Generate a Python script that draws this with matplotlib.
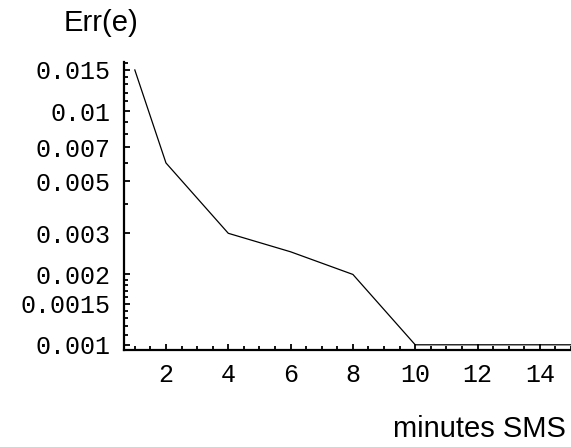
import numpy as np
import matplotlib
matplotlib.use("Agg")
import matplotlib.pyplot as plt
from matplotlib.ticker import FixedLocator, FixedFormatter, MultipleLocator

# data
minutes = [1, 2, 4, 6, 8, 10, 12, 14, 15]
err = [0.015, 0.006, 0.003, 0.0025, 0.002, 0.001, 0.001, 0.001, 0.001]

ytick_vals = [0.001, 0.0015, 0.002, 0.003, 0.005, 0.007, 0.01, 0.015]
ytick_labels = ["0.001", "0.0015", "0.002", "0.003", "0.005", "0.007", "0.01", "0.015"]
xtick_vals = [2, 4, 6, 8, 10, 12, 14]

fig = plt.figure(figsize=(5.71, 4.47), dpi=100)
ax = fig.add_axes([0.217, 0.217, 0.783, 0.644])

ax.plot(minutes, err, color="black", lw=0.9, clip_on=False)
ax.set_yscale("log")
ax.set_xlim(0.65, 15.0)
ax.set_ylim(0.00095, 0.0162)

ax.spines["top"].set_visible(False)
ax.spines["right"].set_visible(False)
ax.spines["left"].set_linewidth(1.6)
ax.spines["bottom"].set_linewidth(1.6)

ax.yaxis.set_major_locator(FixedLocator(ytick_vals))
ax.yaxis.set_major_formatter(FixedFormatter(ytick_labels))
minor_y = list(np.arange(0.0011, 0.00195, 0.0001)) + [0.004] + list(np.arange(0.006, 0.0165, 0.001))
ax.yaxis.set_minor_locator(FixedLocator(minor_y))
ax.yaxis.set_minor_formatter(FixedFormatter([]))

ax.xaxis.set_major_locator(FixedLocator(xtick_vals))
ax.xaxis.set_minor_locator(MultipleLocator(0.5))

ax.tick_params(which="both", direction="in", width=1.3, color="black")
ax.tick_params(which="major", length=4)
ax.tick_params(which="minor", length=3)
ax.tick_params(axis="y", which="major", pad=10)
ax.tick_params(axis="x", which="major", pad=9)
for lab in ax.get_xticklabels() + ax.get_yticklabels():
    lab.set_fontfamily("Liberation Mono")
    lab.set_fontsize(18)

fig.text(64 / 571, 1 - 31 / 447, "Err(e)", fontsize=21, family="Liberation Sans",
         ha="left", va="baseline")
fig.text(566 / 571, 1 - 437 / 447, "minutes SMS", fontsize=21, family="Liberation Sans",
         ha="right", va="baseline")

fig.savefig("out.png", dpi=100)
